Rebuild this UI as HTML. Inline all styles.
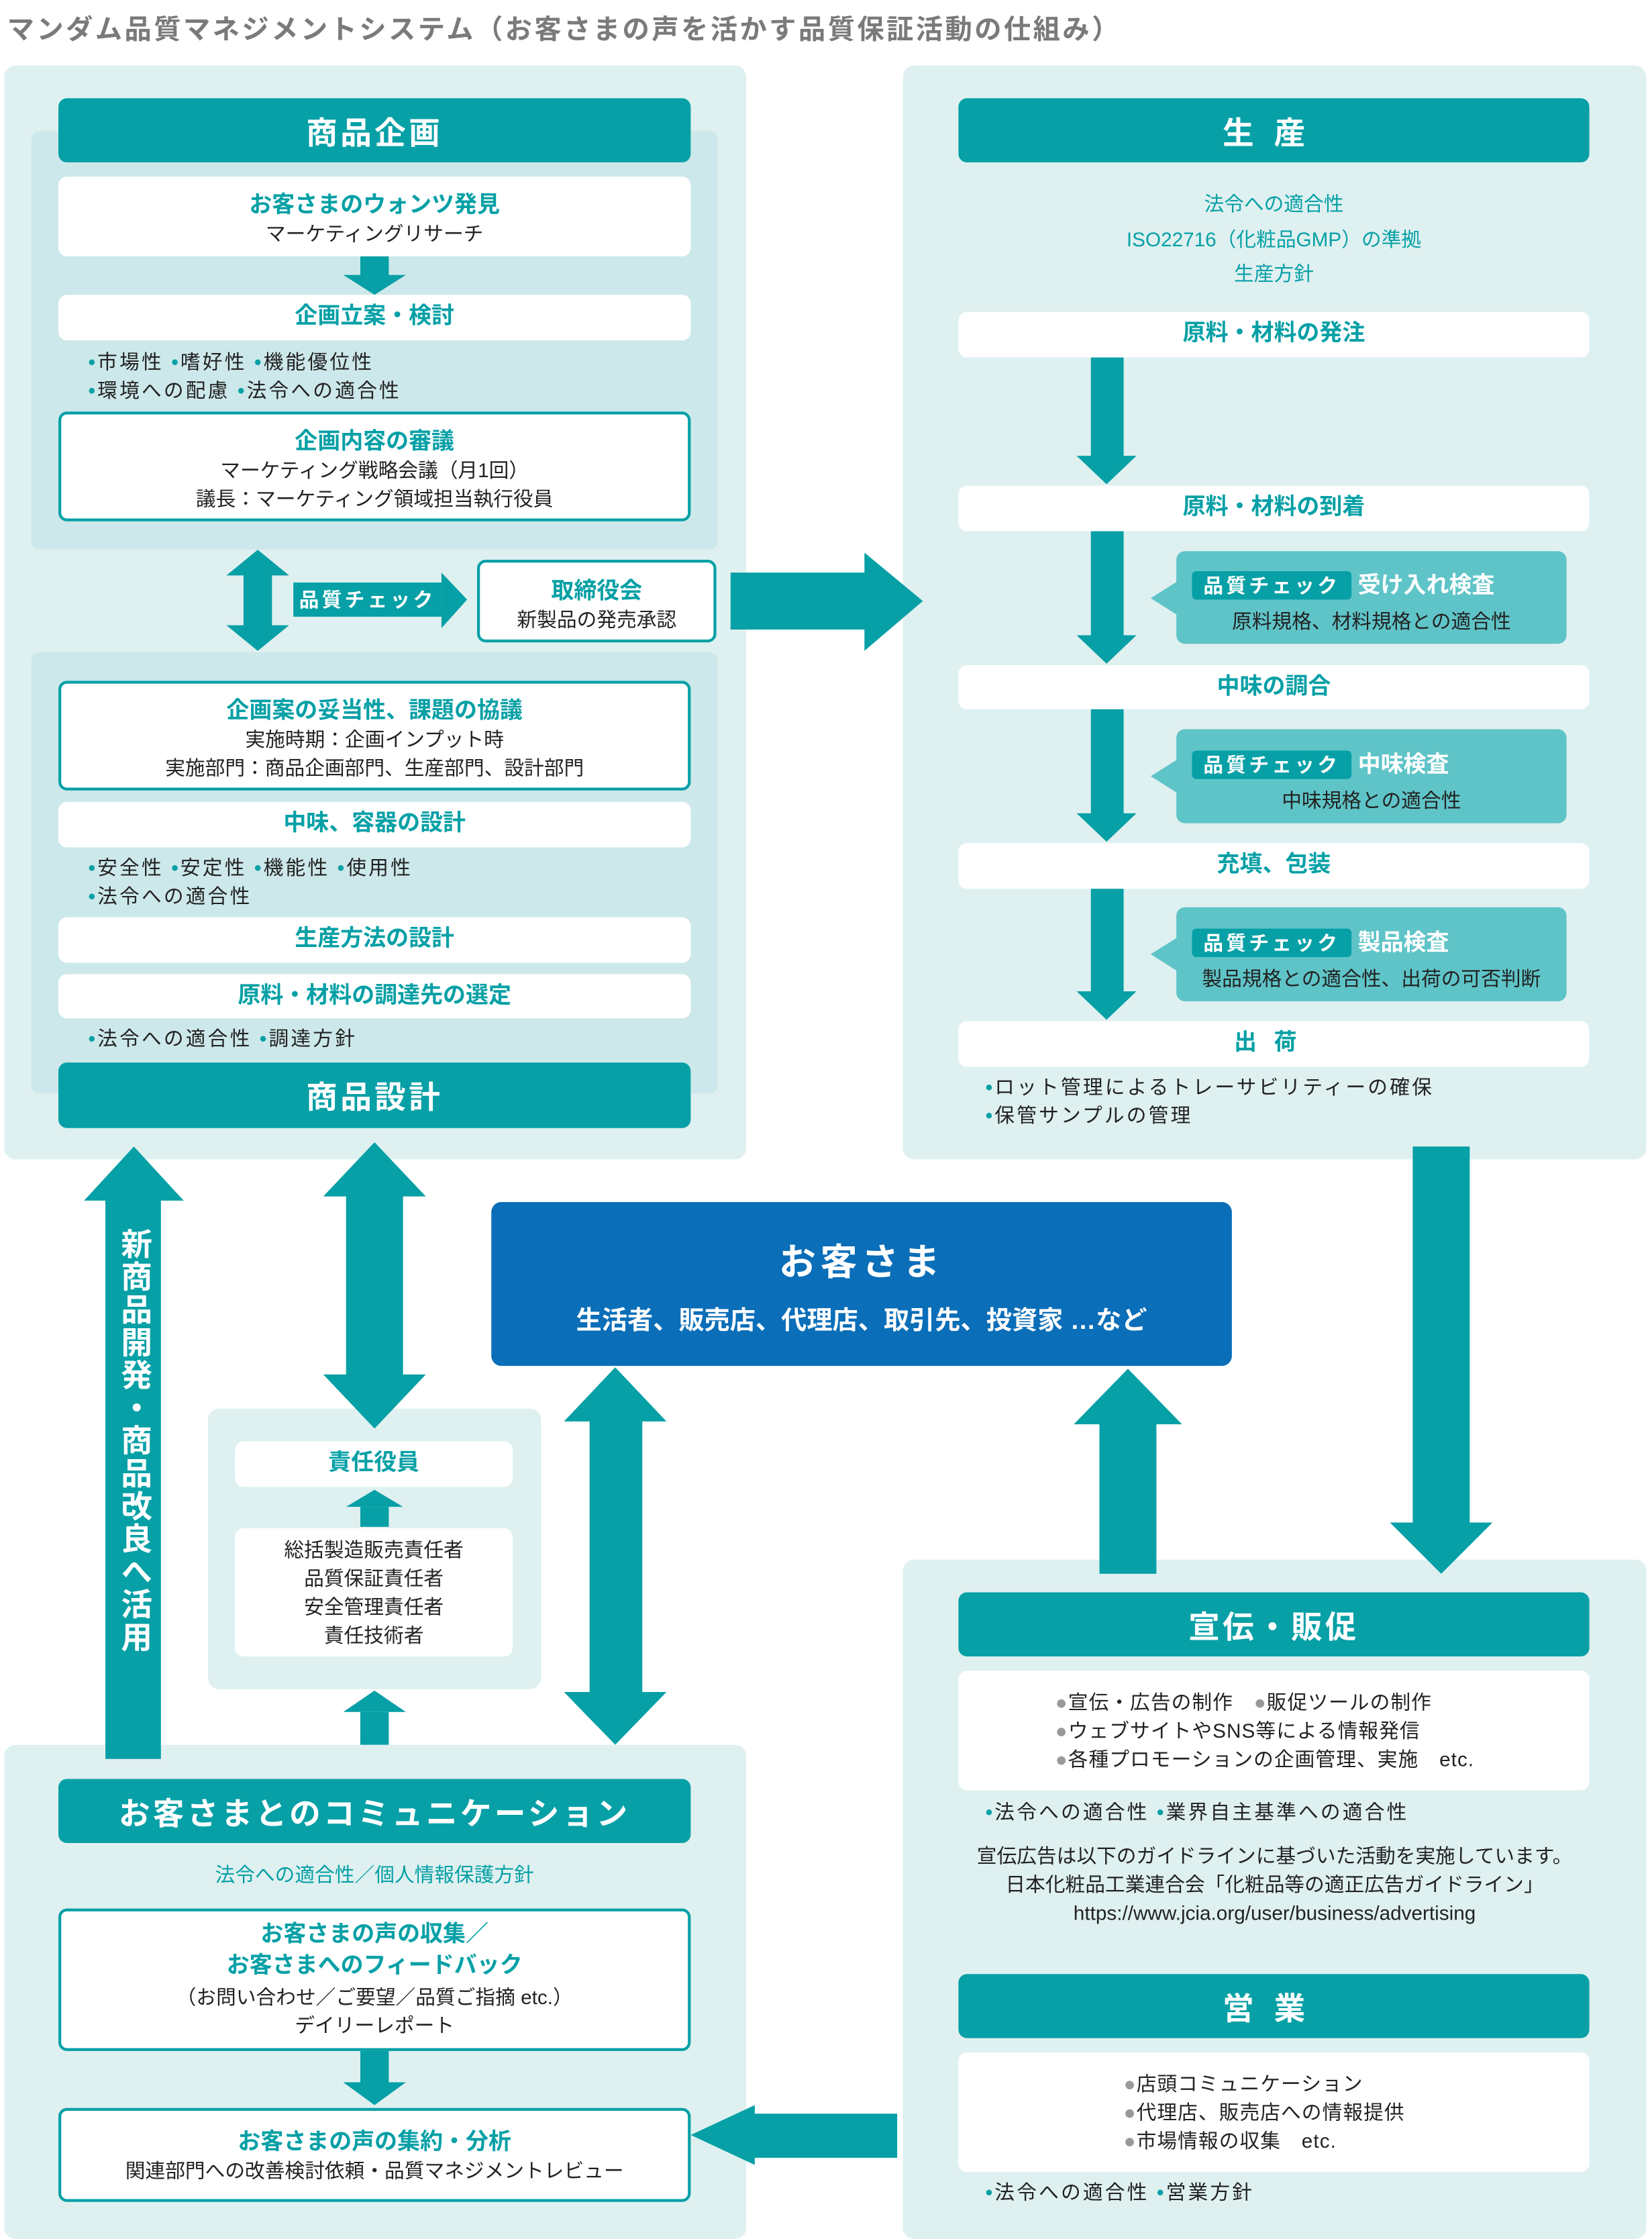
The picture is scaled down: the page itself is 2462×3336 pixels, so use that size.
<!DOCTYPE html>
<html><head><meta charset="utf-8"><style>
html,body{margin:0;padding:0;background:#fff;}
body{width:2462px;height:3336px;overflow:hidden;}
#c{position:absolute;left:0;top:0;width:1160px;height:1572px;transform:scale(2.1224,2.1221);transform-origin:0 0;font-family:"Liberation Sans","Noto Sans CJK JP",sans-serif;color:#222;}
.a{position:absolute;box-sizing:border-box;}
.pan{background:#dff0f0;border-radius:8px;}
.inn{background:#cde8ea;border-radius:6px;}
.hd{background:#06a0a6;color:#fff;border-radius:6px;font-size:22px;font-weight:bold;text-align:center;letter-spacing:2px;display:flex;align-items:center;justify-content:center;}
.wb{background:#fff;border-radius:6px;text-align:center;}
.ob{background:#fff;border:2px solid #06a0a6;border-radius:6px;text-align:center;}
.t{color:#06a0a6;font-weight:bold;font-size:16px;}
.s{font-size:14px;line-height:20px;}
.bl{font-size:14px;line-height:20px;letter-spacing:1.5px;white-space:nowrap;}
.bl b{color:#06a0a6;}
.tt{color:#06a0a6;font-size:14px;text-align:center;}
.bub{background:#5fc4c8;border-radius:6px;}
.qc{background:#06a0a6;color:#fff;font-size:14px;font-weight:bold;padding:2px 8px;border-radius:3px;letter-spacing:2px;}
.gd{color:#999;}
</style></head><body><div id="c">
<div class="a" style="left:5px;top:6px;font-size:19px;font-weight:bold;color:#7a7a7a;white-space:nowrap;letter-spacing:1.6px;">マンダム品質マネジメントシステム（お客さまの声を活かす品質保証活動の仕組み）</div>

<div class="a pan" style="left:3px;top:46px;width:521px;height:768px;"></div>
<div class="a inn" style="left:22px;top:92px;width:482px;height:294px;"></div>
<div class="a inn" style="left:22px;top:458px;width:482px;height:310px;"></div>
<div class="a hd" style="left:41px;top:69px;width:444px;height:45px;">商品企画</div>
<div class="a wb" style="left:41px;top:124px;width:444px;height:56px;padding-top:6px;"><div class="t">お客さまのウォンツ発見</div><div class="s">マーケティングリサーチ</div></div>
<div class="a wb" style="left:41px;top:207px;width:444px;height:32px;line-height:32px;"><span class="t">企画立案・検討</span></div>
<div class="a bl" style="left:62px;top:244px;"><b>•</b>市場性 <b>•</b>嗜好性 <b>•</b>機能優位性<br><b>•</b>環境への配慮 <b>•</b>法令への適合性</div>
<div class="a ob" style="left:41px;top:289px;width:444px;height:77px;padding-top:5px;"><div class="t">企画内容の審議</div><div class="s">マーケティング戦略会議（月1回）<br>議長：マーケティング領域担当執行役員</div></div>
<div class="a ob" style="left:335px;top:393px;width:168px;height:58px;padding-top:6px;"><div class="t">取締役会</div><div class="s">新製品の発売承認</div></div>
<div class="a" style="left:206px;top:409px;width:104px;height:24px;background:#06a0a6;color:#fff;font-size:14px;font-weight:bold;line-height:24px;text-align:center;letter-spacing:2px;">品質チェック</div>
<div class="a ob" style="left:41px;top:478px;width:444px;height:77px;padding-top:5px;"><div class="t">企画案の妥当性、課題の協議</div><div class="s">実施時期：企画インプット時<br>実施部門：商品企画部門、生産部門、設計部門</div></div>
<div class="a wb" style="left:41px;top:563px;width:444px;height:32px;line-height:32px;"><span class="t">中味、容器の設計</span></div>
<div class="a bl" style="left:62px;top:599px;"><b>•</b>安全性 <b>•</b>安定性 <b>•</b>機能性 <b>•</b>使用性<br><b>•</b>法令への適合性</div>
<div class="a wb" style="left:41px;top:644px;width:444px;height:32px;line-height:32px;"><span class="t">生産方法の設計</span></div>
<div class="a wb" style="left:41px;top:684px;width:444px;height:31px;line-height:31px;"><span class="t">原料・材料の調達先の選定</span></div>
<div class="a bl" style="left:62px;top:719px;"><b>•</b>法令への適合性 <b>•</b>調達方針</div>
<div class="a hd" style="left:41px;top:746px;width:444px;height:46px;">商品設計</div>

<div class="a pan" style="left:634px;top:46px;width:522px;height:768px;"></div>
<div class="a hd" style="left:673px;top:69px;width:443px;height:45px;letter-spacing:14px;">生産</div>
<div class="a tt" style="left:673px;top:131px;width:443px;line-height:24.5px;">法令への適合性<br>ISO22716（化粧品GMP）の準拠<br>生産方針</div>
<div class="a wb" style="left:673px;top:219px;width:443px;height:32px;line-height:32px;"><span class="t">原料・材料の発注</span></div>
<div class="a wb" style="left:673px;top:341px;width:443px;height:32px;line-height:32px;"><span class="t">原料・材料の到着</span></div>
<div class="a wb" style="left:673px;top:467px;width:443px;height:31px;line-height:31px;"><span class="t">中味の調合</span></div>
<div class="a wb" style="left:673px;top:592px;width:443px;height:32px;line-height:32px;"><span class="t">充填、包装</span></div>
<div class="a wb" style="left:673px;top:717px;width:443px;height:32px;line-height:32px;"><span class="t" style="letter-spacing:12px;">出荷</span></div>
<div class="a bl" style="left:692px;top:753px;"><b>•</b>ロット管理によるトレーサビリティーの確保<br><b>•</b>保管サンプルの管理</div>

<div class="a bub" style="left:826px;top:387px;width:274px;height:65px;"></div>
<div class="a bub" style="left:826px;top:512px;width:274px;height:66px;"></div>
<div class="a bub" style="left:826px;top:637px;width:274px;height:66px;"></div>
<div class="a" style="left:837px;top:397px;white-space:nowrap;"><span class="qc">品質チェック</span> <span style="color:#fff;font-weight:bold;font-size:16px;">受け入れ検査</span></div>
<div class="a s" style="left:826px;top:426px;width:274px;text-align:center;">原料規格、材料規格との適合性</div>
<div class="a" style="left:837px;top:523px;white-space:nowrap;"><span class="qc">品質チェック</span> <span style="color:#fff;font-weight:bold;font-size:16px;">中味検査</span></div>
<div class="a s" style="left:826px;top:552px;width:274px;text-align:center;">中味規格との適合性</div>
<div class="a" style="left:837px;top:648px;white-space:nowrap;"><span class="qc">品質チェック</span> <span style="color:#fff;font-weight:bold;font-size:16px;">製品検査</span></div>
<div class="a s" style="left:826px;top:677px;width:274px;text-align:center;">製品規格との適合性、出荷の可否判断</div>

<div class="a" style="left:345px;top:844px;width:520px;height:115px;background:#0a6eb8;border-radius:7px;color:#fff;text-align:center;">
<div style="font-size:26px;font-weight:bold;margin-top:22px;letter-spacing:3px;">お客さま</div>
<div style="font-size:18px;font-weight:bold;margin-top:10px;">生活者、販売店、代理店、取引先、投資家 …など</div></div>

<div class="a pan" style="left:146px;top:989px;width:234px;height:197px;"></div>
<div class="a wb" style="left:165px;top:1012px;width:195px;height:32px;line-height:32px;"><span class="t">責任役員</span></div>
<div class="a wb s" style="left:165px;top:1073px;width:195px;height:90px;padding-top:5px;">総括製造販売責任者<br>品質保証責任者<br>安全管理責任者<br>責任技術者</div>

<div class="a pan" style="left:3px;top:1225px;width:521px;height:347px;"></div>
<div class="a hd" style="left:41px;top:1249px;width:444px;height:45px;">お客さまとのコミュニケーション</div>
<div class="a tt" style="left:41px;top:1306px;width:444px;">法令への適合性／個人情報保護方針</div>
<div class="a ob" style="left:41px;top:1340px;width:444px;height:100px;padding-top:6px;"><div class="t" style="line-height:22px;">お客さまの声の収集／<br>お客さまへのフィードバック</div><div class="s">（お問い合わせ／ご要望／品質ご指摘 etc.）<br>デイリーレポート</div></div>
<div class="a ob" style="left:41px;top:1480px;width:444px;height:66px;padding-top:8px;"><div class="t">お客さまの声の集約・分析</div><div class="s">関連部門への改善検討依頼・品質マネジメントレビュー</div></div>

<div class="a pan" style="left:634px;top:1095px;width:522px;height:477px;"></div>
<div class="a hd" style="left:673px;top:1118px;width:443px;height:45px;">宣伝・販促</div>
<div class="a wb s" style="left:673px;top:1173px;width:443px;height:84px;text-align:left;padding:12px 0 0 68px;letter-spacing:0.5px;"><span class="gd">●</span>宣伝・広告の制作　<span class="gd">●</span>販促ツールの制作<br><span class="gd">●</span>ウェブサイトやSNS等による情報発信<br><span class="gd">●</span>各種プロモーションの企画管理、実施　etc.</div>
<div class="a bl" style="left:692px;top:1262px;"><b>•</b>法令への適合性 <b>•</b>業界自主基準への適合性</div>
<div class="a s" style="left:640px;top:1293px;width:510px;text-align:center;">宣伝広告は以下のガイドラインに基づいた活動を実施しています。<br>日本化粧品工業連合会「化粧品等の適正広告ガイドライン」<br>https://www.jcia.org/user/business/advertising</div>
<div class="a hd" style="left:673px;top:1386px;width:443px;height:45px;letter-spacing:14px;">営業</div>
<div class="a wb s" style="left:673px;top:1441px;width:443px;height:84px;text-align:left;padding:12px 0 0 116px;letter-spacing:0.5px;"><span class="gd">●</span>店頭コミュニケーション<br><span class="gd">●</span>代理店、販売店への情報提供<br><span class="gd">●</span>市場情報の収集　etc.</div>
<div class="a bl" style="left:692px;top:1529px;"><b>•</b>法令への適合性 <b>•</b>営業方針</div>

<svg class="a" style="left:0;top:0;" width="1160" height="1572" viewBox="0 0 1160 1572" fill="#06a0a6">
<polygon points="253,180 273,180 273,193 285,193 263,207 241,193 253,193"/>
<polygon points="181,386 203,404 191,404 191,439 203,439 181,457 159,439 171,439 171,404 159,404"/>
<polygon points="310,402 328,421 310,441"/>
<polygon points="513,402 607,402 607,388 648,422 607,457 607,442 513,442"/>
<polygon points="766,251 789,251 789,320 798,320 777,340 756,320 766,320"/>
<polygon points="766,373 789,373 789,446 798,446 777,466 756,446 766,446"/>
<polygon points="766,498 789,498 789,571 798,571 777,591 756,571 766,571"/>
<polygon points="766,624 789,624 789,696 798,696 777,716 756,696 766,696"/>
<g fill="#5fc4c8">
<polygon points="827,408 808,420 827,432"/>
<polygon points="827,533 808,545 827,557"/>
<polygon points="827,658 808,670 827,682"/>
</g>
<polygon points="992,805 1032,805 1032,1069 1048,1069 1012,1105 976,1069 992,1069"/>
<polygon points="74,1235 113,1235 113,843 129,843 94,805 59,843 74,843"/>
<polygon points="263,802 299,840 283,840 283,965 299,965 263,1003 227,965 243,965 243,840 227,840"/>
<polygon points="432,960 468,998 451,998 451,1188 468,1188 432,1225 396,1188 414,1188 414,998 396,998"/>
<polygon points="772,1105 812,1105 812,1000 830,1000 792,961 754,1000 772,1000"/>
<polygon points="253,1058 273,1058 273,1072 253,1072"/><polygon points="263,1046 283,1058 243,1058"/>
<polygon points="253,1202 273,1202 273,1225 253,1225"/><polygon points="263,1187 285,1202 241,1202"/>
<polygon points="253,1440 273,1440 273,1462 285,1462 263,1478 241,1462 253,1462"/>
<polygon points="630,1484 530,1484 530,1478 485,1499 530,1520 530,1515 630,1515"/>
</svg>
<div class="a" style="left:76px;top:862px;width:36px;color:#fff;font-size:22px;font-weight:bold;writing-mode:vertical-rl;text-align:center;letter-spacing:1px;line-height:36px;">新商品開発・商品改良へ活用</div>
</div></body></html>
